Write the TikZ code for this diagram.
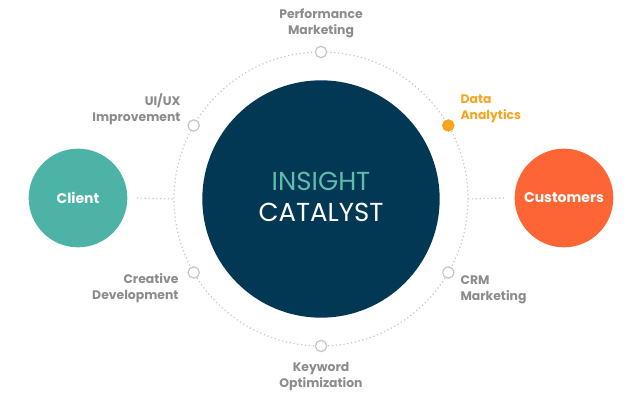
\documentclass[tikz,border=0pt]{standalone}
\usepackage{fontspec}
\setmainfont{Poppins}
\usetikzlibrary{positioning}
\definecolor{hubnavy}{HTML}{033854}
\definecolor{clientgreen}{HTML}{4DB3A6}
\definecolor{custorange}{HTML}{FD6535}
\definecolor{dataorange}{HTML}{F7A51E}
\definecolor{taggrey}{HTML}{8C8C8C}
\definecolor{insightgreen}{HTML}{5EBBAE}
\begin{document}
\begin{tikzpicture}[x=0.75pt,y=0.75pt,
    hub/.style={circle, fill=hubnavy, minimum size=178pt, inner sep=0pt},
    side/.style={circle, minimum size=74pt, inner sep=0pt, text=white,
        font=\fontsize{10.5}{12}\selectfont\bfseries},
    dot/.style={circle, draw=gray!45, fill=white, line width=0.9pt,
        minimum size=8.5pt, inner sep=0pt},
    tag/.style={inner sep=0pt, text=taggrey,
        font=\fontsize{9.3}{12}\selectfont\bfseries},
    ring/.style={gray!45, line width=0.9pt, dash pattern=on 0.9pt off 2pt}]
    \useasboundingbox (0,0) rectangle (644,400);
    % Anillo punteado
    \coordinate (c) at (321,201);
    \draw[ring] (c) circle (147);
    \coordinate (ringW) at ([shift={(180:147)}]c);
    \coordinate (ringE) at ([shift={(0:147)}]c);
    % Centro
    \node[hub] (hub) at (c) {};
    \node[text=insightgreen, font=\fontsize{19.5}{20}\selectfont] (insight) at (321,219) {INSIGHT};
    \node[text=white, font=\fontsize{19.5}{20}\selectfont] (catalyst) at (321,188) {CATALYST};
    % Extremos
    \node[side, fill=clientgreen] (client) at (78,202) {Client};
    \node[side, fill=custorange] (customers) at (564,202) {Customers};
    \draw[ring] ([xshift=7pt]client.east) -- (ringW);
    \draw[ring] (ringE) -- ([xshift=-6pt]customers.west);
    % Puntos del anillo
    \foreach \a/\n in {90/perf, 150/uiux, 210/creative, 270/keyword, 330/crm}
        \node[dot] (\n) at ([shift={(\a:147)}]c) {};
    \node[dot, draw=dataorange, fill=dataorange] (data) at ([shift={(30:147)}]c) {};
    % Etiquetas
    \node[tag, anchor=south, align=center] (perfTag) at ([shift={(0,14)}]perf) {Performance\\Marketing};
    \node[tag, anchor=east, align=right] (uiuxTag) at ([shift={(-13,16)}]uiux) {UI/UX\\Improvement};
    \node[tag, anchor=west, align=left, text=dataorange] (dataTag) at ([shift={(12,17)}]data) {Data\\Analytics};
    \node[tag, anchor=east, align=right] (creativeTag) at ([shift={(-15,-16)}]creative) {Creative\\Development};
    \node[tag, anchor=west, align=left] (crmTag) at ([shift={(12,-17)}]crm) {CRM\\Marketing};
    \node[tag, anchor=north, align=center] (keywordTag) at ([shift={(0,-16)}]keyword) {Keyword\\Optimization};
\end{tikzpicture}
\end{document}
